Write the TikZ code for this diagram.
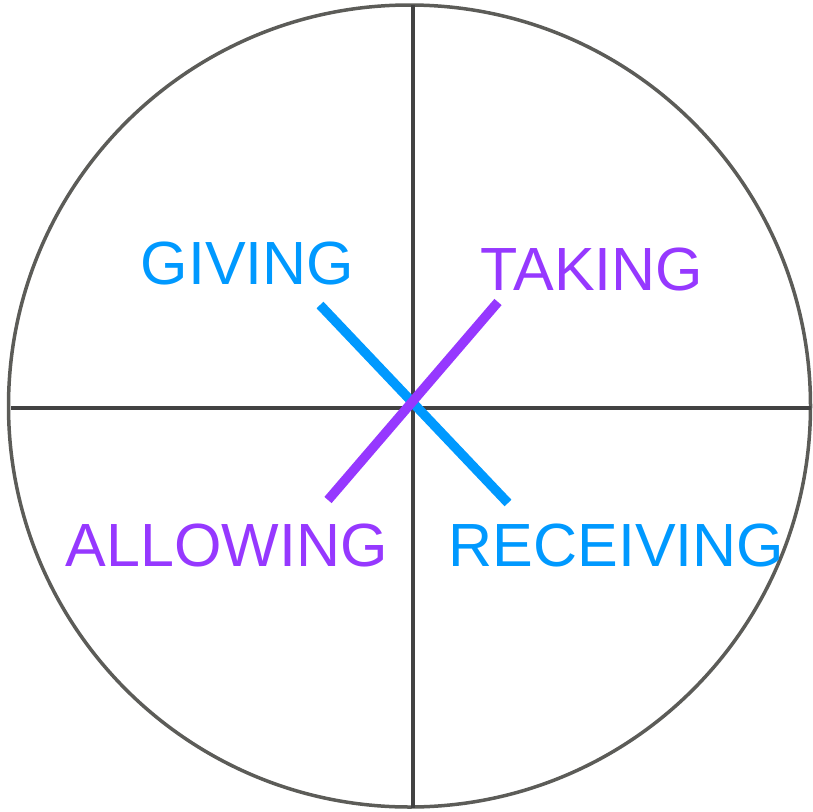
\documentclass[tikz,border=0pt]{standalone}
\usepackage{fontspec}
\setmainfont{Liberation Sans}
\definecolor{ringgray}{RGB}{92,92,88}
\definecolor{axisgray}{RGB}{66,66,66}
\definecolor{giveblue}{RGB}{0,153,255}
\definecolor{takepurple}{RGB}{150,56,255}
\begin{document}
\begin{tikzpicture}[x=1pt,y=-1pt,
  ring/.style={draw=ringgray,line width=3.5pt},
  axis/.style={draw=axisgray,line width=3.5pt},
  bar/.style={line width=9.5pt},
  word/.style={font=\fontsize{61}{61}\selectfont,anchor=base,inner sep=0pt}]
\useasboundingbox (0,0) rectangle (813,811);
\coordinate (c) at (409.5,406);
\draw[ring] (c) circle (401);
\coordinate (hl) at (11,408);
\coordinate (hr) at (811,408);
\coordinate (vt) at (413,5);
\coordinate (vb) at (413,808);
\draw[axis] (hl) -- (hr);
\draw[axis] (vt) -- (vb);
\coordinate (g1) at (320,305);
\coordinate (g2) at (508,503);
\coordinate (t1) at (498,302);
\coordinate (t2) at (328,500);
\draw[bar,giveblue] (g1) -- (g2);
\draw[bar,takepurple] (t1) -- (t2);
\node[word,text=giveblue] (giving) at (247.5,284) {GIVING};
\node[word,text=takepurple] (taking) at (592,290) {TAKING};
\node[word,text=takepurple] (allowing) at (226.5,566) {ALLOWING};
\node[word,text=giveblue] (receiving) at (616.5,566) {RECEIVING};
\end{tikzpicture}
\end{document}
